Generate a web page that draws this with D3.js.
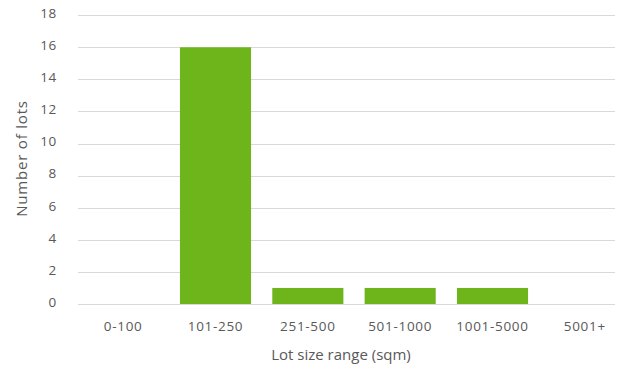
<!DOCTYPE html>
<html><head><meta charset="utf-8">
<script src="https://cdn.jsdelivr.net/npm/d3@7"></script>
<style>
html,body{margin:0;padding:0;background:#fff;}
svg{display:block;}
text{font-family:"Open Sans","DejaVu Sans",sans-serif;fill:#595959;}
</style></head>
<body>
<svg id="chart" width="617" height="369"></svg>
<script>
const categories = ["0-100","101-250","251-500","501-1000","1001-5000","5001+"];
const lots = [0,16,1,1,1,0];
const yTicks = [0,2,4,6,8,10,12,14,16,18];
const xTitle = "Lot size range (sqm)";
const yTitle = "Number of lots";

(function(){
const svg = d3.select("#chart");
const mLeft = 77, mRight = 631, mTop = 15, mBottom = 304;

const x = d3.scaleBand().domain(categories).range([mLeft, mRight]).paddingInner(0.23).paddingOuter(0.115);
const y = d3.scaleLinear().domain([0,18]).range([mBottom, mTop + 0.2]);

// gridlines
svg.append("g").selectAll("line").data(yTicks).join("line")
  .attr("x1", 78).attr("x2", 615)
  .attr("y1", d => Math.round(y(d)) + 0.5).attr("y2", d => Math.round(y(d)) + 0.5)
  .attr("stroke", "#d9d9d9").attr("stroke-width", 1);

// y axis labels
const yAxis = d3.axisLeft(y).tickValues(yTicks).tickSize(0).tickPadding(0);
const gy = svg.append("g").attr("transform", "translate(57,-2)").call(yAxis);
gy.select(".domain").remove();
gy.selectAll("text").attr("fill", "#595959").style("font-size", "13.5px")
  .style("letter-spacing", "0.7px")
  .style("font-family", '"Open Sans","DejaVu Sans",sans-serif');

// bars
svg.append("g").selectAll("rect").data(categories.map((c,i)=>({c, v: lots[i]}))).join("rect")
  .attr("x", d => x(d.c)).attr("width", x.bandwidth())
  .attr("y", d => y(d.v)).attr("height", d => y(0) - y(d.v))
  .attr("fill", "#6eb51b");

// x axis labels
const xAxis = d3.axisBottom(x).tickSize(0).tickPadding(0);
const gx = svg.append("g").attr("transform", "translate(0,321)").call(xAxis);
gx.select(".domain").remove();
gx.selectAll("text").attr("fill", "#595959").style("font-size", "13.5px")
  .style("letter-spacing", "0.7px")
  .style("font-family", '"Open Sans","DejaVu Sans",sans-serif');

// axis titles
svg.append("text").attr("x", 341).attr("y", 360).attr("text-anchor", "middle")
  .style("font-size", "15px").text(xTitle);
svg.append("text").attr("transform", "translate(27,158.5) rotate(-90)").attr("text-anchor", "middle")
  .style("font-size", "15px").style("letter-spacing", "0.8px").text(yTitle);
})();
</script>
</body></html>
